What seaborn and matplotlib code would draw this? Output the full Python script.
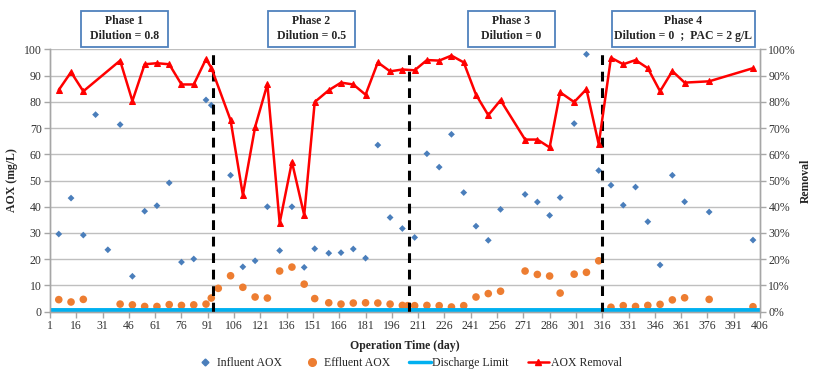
import numpy as np
import pandas as pd
import matplotlib
matplotlib.use("Agg")
import matplotlib.pyplot as plt
from matplotlib.patches import Rectangle
from matplotlib.lines import Line2D
from matplotlib.ticker import FuncFormatter, FixedLocator
import seaborn as sns

# ---------------- data ----------------
influent_days = [6, 13, 20, 27, 34, 41, 48, 55, 62, 69, 76, 83, 90, 93, 104, 111, 118, 125,
                 132, 139, 146, 152, 160, 167, 174, 181, 188, 195, 202, 209, 216, 223, 230,
                 237, 244, 251, 258, 272, 279, 286, 292, 300, 307, 314, 321, 328, 335, 342,
                 349, 356, 363, 377, 402]
influent_aox = [29.6, 43.3, 29.2, 75.1, 23.6, 71.3, 13.5, 38.3, 40.4, 49.1, 18.9, 20.1, 80.7,
                78.7, 52.0, 17.1, 19.4, 40.0, 23.3, 40.0, 16.9, 24.0, 22.3, 22.5, 23.9, 20.4,
                63.5, 35.9, 31.7, 28.3, 60.2, 55.1, 67.6, 45.4, 32.6, 27.2, 39.0, 44.7, 41.8,
                36.7, 43.5, 71.7, 98.1, 53.8, 48.2, 40.6, 47.5, 34.3, 17.8, 52.0, 41.9, 38.0,
                27.3]

effluent_days = [6, 13, 20, 41, 48, 55, 62, 69, 76, 83, 90, 93, 97, 104, 111, 118, 125, 132,
                 139, 146, 152, 160, 167, 174, 181, 188, 195, 202, 205, 209, 216, 223, 230,
                 237, 244, 251, 258, 272, 279, 286, 292, 300, 307, 314, 321, 328, 335, 342,
                 349, 356, 363, 377, 402]
effluent_aox = [4.6, 3.7, 4.7, 2.9, 2.6, 2.0, 2.0, 2.7, 2.4, 2.6, 2.9, 5.2, 8.9, 13.7, 9.3,
                5.6, 5.2, 15.5, 17.0, 10.5, 5.0, 3.4, 2.9, 3.3, 3.4, 3.3, 2.9, 2.4, 2.3, 2.3,
                2.4, 2.3, 1.8, 2.3, 5.6, 6.9, 7.8, 15.5, 14.2, 13.6, 7.1, 14.3, 15.0, 19.4,
                1.7, 2.3, 2.0, 2.4, 2.8, 4.5, 5.3, 4.7, 1.9]

removal_days = [6, 13, 20, 41, 48, 55, 62, 69, 76, 83, 90, 93, 104, 111, 118, 125, 132, 139,
                146, 152, 160, 167, 174, 181, 188, 195, 202, 209, 216, 223, 230, 237, 244,
                251, 258, 272, 279, 286, 292, 300, 307, 314, 321, 328, 335, 342, 349, 356,
                363, 377, 402]
removal_pct = [84.5, 91.3, 84.0, 95.7, 80.3, 94.3, 94.7, 94.3, 86.6, 86.6, 96.3, 93.0, 73.0,
               44.5, 70.4, 86.7, 33.8, 57.1, 36.8, 79.9, 84.4, 87.3, 86.6, 82.7, 95.0, 91.6,
               92.3, 92.0, 95.9, 95.7, 97.6, 95.0, 82.7, 74.9, 80.6, 65.6, 65.6, 62.6, 83.6,
               79.9, 84.8, 63.8, 96.8, 94.3, 95.9, 92.8, 84.0, 91.7, 87.3, 87.8, 92.8]

discharge_limit = 0.5
phase_boundaries = [94, 206, 316]
phase_labels = ["Phase 1\nDilution = 0.8", "Phase 2\nDilution = 0.5",
                "Phase 3\nDilution = 0", "Phase 4\nDilution = 0  ;  PAC = 2 g/L"]
x_ticks = list(range(1, 407, 15))
y_ticks = list(range(0, 101, 10))

# ---------------- style ----------------
sns.set_theme(style="white")
plt.rcParams["font.family"] = ["Liberation Serif", "DejaVu Serif"]
plt.rcParams["font.size"] = 8.5

W, H = 814, 379
fig = plt.figure(figsize=(W / 100, H / 100), dpi=100)
ax_l, ax_r, ax_t, ax_b = 50, 760, 49.3, 311.7
ax = fig.add_axes([ax_l / W, 1 - ax_b / H, (ax_r - ax_l) / W, (ax_b - ax_t) / H])

blue = "#4a7ebb"
orange = "#ed7d31"
limit_c = "#00b0f0"
grid_c = "#bfbfbf"

df_in = pd.DataFrame({"day": influent_days, "aox": influent_aox})
df_ef = pd.DataFrame({"day": effluent_days, "aox": effluent_aox})
df_rm = pd.DataFrame({"day": removal_days, "rem": removal_pct})

ax.set_xlim(1, 406)
ax.set_ylim(0, 100)
ax.yaxis.set_major_locator(FixedLocator(y_ticks))
ax.xaxis.set_major_locator(FixedLocator(x_ticks))
ax.grid(axis="y", color=grid_c, lw=1.0)
ax.set_axisbelow(True)

sns.scatterplot(data=df_in, x="day", y="aox", marker="D", color=blue, s=12,
                edgecolor="none", ax=ax, legend=False, zorder=3)
sns.scatterplot(data=df_ef, x="day", y="aox", marker="o", color=orange, s=30,
                edgecolor="none", ax=ax, legend=False, zorder=3)
ax.axhline(discharge_limit, color=limit_c, lw=2.8, zorder=4)

ax2 = ax.twinx()
ax2.set_ylim(0, 100)
ax2.yaxis.set_major_locator(FixedLocator(y_ticks))
for b in phase_boundaries:
    ax2.axvline(b, color="black", lw=2.2, ls=(0, (3.2, 2.2)), zorder=2)
sns.lineplot(data=df_rm, x="day", y="rem", color="red", lw=1.8, marker="^",
             markersize=4.5, markeredgecolor="red", ax=ax2, zorder=5)
ax2.set_xlim(1, 406)
ax2.yaxis.set_major_formatter(FuncFormatter(lambda v, p: f"{int(v)}%"))

for a in (ax, ax2):
    for s in a.spines.values():
        s.set_color("#a6a6a6")
        s.set_linewidth(1.0)
    a.spines["top"].set_visible(False)
ax.tick_params(axis="both", which="major", direction="out", length=4, width=1,
               color="#a6a6a6", labelsize=8.5, pad=2, labelcolor="#333333")
ax2.tick_params(axis="y", direction="out", length=4, width=1, color="#a6a6a6",
                labelsize=8.5, pad=2, labelcolor="#333333")
ax.tick_params(axis="y", left=True)
ax.tick_params(axis="x", bottom=True)

ax.set_xlabel("Operation Time (day)", fontsize=8.5, fontweight="bold", labelpad=6)
ax.set_ylabel("AOX (mg/L)", fontsize=8.5, fontweight="bold", labelpad=4)
ax2.set_ylabel("Removal", fontsize=8.5, fontweight="bold", labelpad=3)

# phase boxes
boxes = [(81, 168), (268, 355), (468, 555), (612, 755)]
by0, by1 = 11, 46.5
for (x0, x1), lab in zip(boxes, phase_labels):
    rect = Rectangle((x0 / W, 1 - by1 / H), (x1 - x0) / W, (by1 - by0) / H,
                     transform=fig.transFigure, facecolor="white",
                     edgecolor="#4f81bd", lw=1.3)
    fig.add_artist(rect)
    fig.text((x0 + x1) / 2 / W, 1 - (by0 + by1) / 2 / H, lab, ha="center",
             va="center", fontsize=8.5, fontweight="bold", linespacing=1.3)

handles = [
    Line2D([], [], ls="none", marker="D", color=blue, ms=3.5),
    Line2D([], [], ls="none", marker="o", color=orange, ms=5.5),
    Line2D([], [], color=limit_c, lw=2.5),
    Line2D([], [], color="red", lw=1.8, marker="^", ms=4.5),
]
labels = ["Influent AOX", "Effluent AOX", "Discharge Limit", "AOX Removal"]
fig.legend(handles, labels, loc="center", bbox_to_anchor=(408 / W, 1 - 363 / H),
           ncol=4, frameon=False, fontsize=8.5, handlelength=1.8,
           handletextpad=0.15, columnspacing=1.6)

fig.savefig("out.png", dpi=100)
